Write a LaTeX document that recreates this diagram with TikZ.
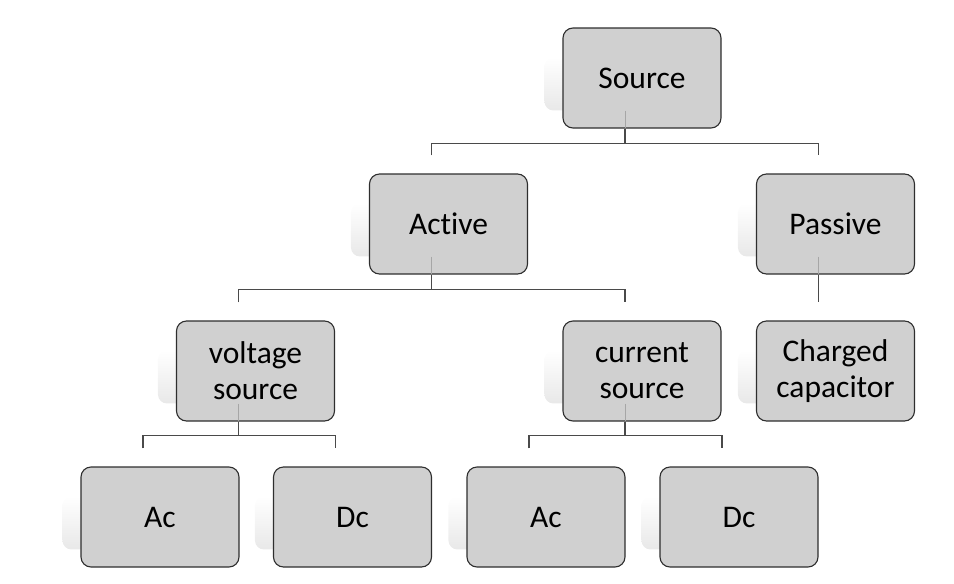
\documentclass[tikz,border=0pt]{standalone}
\usepackage{fontspec}
\setmainfont[Ligatures={NoCommon}]{Carlito}
\usetikzlibrary{calc,backgrounds}
\definecolor{boxfill}{HTML}{D0D0D0}
\definecolor{boxline}{HTML}{2E2E2E}
\definecolor{connline}{HTML}{4A4A4A}
\tikzset{
  box/.style={draw=boxline, line width=1.1pt, fill=boxfill, rounded corners=10pt,
    minimum width=158pt, minimum height=100pt, align=center, inner sep=0pt,
    font=\fontsize{31.5}{36}\selectfont, text=black},
  conn/.style={draw=connline, line width=1.3pt},
  inner/.style={draw=black!35, line width=0.8pt},
  shadowbox/.style={top color=white, bottom color=black!9, rounded corners=9pt}
}
\begin{document}
\begin{tikzpicture}[x=1pt,y=-1pt]
\useasboundingbox (0,0) rectangle (954,584);
\node[box] (src) at (642,78) {Source};
\node[box] (act) at (448.5,224) {Active};
\node[box] (pas) at (835.5,224) {Passive};
\node[box] (vs) at (255.5,371) {voltage\\source};
\node[box] (cs) at (642,371) {current\\source};
\node[box] (cc) at (835.5,371) {Charged\\capacitor};
\node[box] (ac1) at (160,517) {Ac};
\node[box] (dc1) at (352.5,517) {Dc};
\node[box] (ac2) at (546,517) {Ac};
\node[box] (dc2) at (739,517) {Dc};
\begin{scope}[on background layer]
\foreach \n in {src,act,pas,vs,cs,cc,ac1,dc1,ac2,dc2}{
  \shade[shadowbox] ($(\n.north west)+(-18,30)$) rectangle ($(\n.north west)+(120,83)$);
}
\end{scope}
% faint inner lines
\foreach \n in {src,act,vs,cs,pas}{
  \draw[inner] ($(\n.south)+(-17,-18)$) -- ($(\n.south)+(-17,-0.6)$);
}
% Source level
\coordinate (jsrc) at ($(src.south)+(-17,15)$);
\draw[conn] ($(src.south)+(-17,0)$) -- (jsrc);
\draw[conn] ($(act.north)+(-17,-18)$) |- (jsrc) -| ($(pas.north)+(-17,-18)$);
% Active level
\coordinate (jact) at ($(act.south)+(-17,15)$);
\draw[conn] ($(act.south)+(-17,0)$) -- (jact);
\draw[conn] ($(vs.north)+(-17,-18)$) |- (jact) -| ($(cs.north)+(-17,-18)$);
% Passive
\draw[conn] ($(pas.south)+(-17,0)$) -- ($(cc.north)+(-17,-18)$);
% voltage source
\coordinate (jvs) at ($(vs.south)+(-17,14)$);
\draw[conn] ($(vs.south)+(-17,0)$) -- (jvs);
\draw[conn] ($(ac1.north)+(-17,-18)$) |- (jvs) -| ($(dc1.north)+(-17,-18)$);
% current source
\coordinate (jcs) at ($(cs.south)+(-17,14)$);
\draw[conn] ($(cs.south)+(-17,0)$) -- (jcs);
\draw[conn] ($(ac2.north)+(-17,-18)$) |- (jcs) -| ($(dc2.north)+(-17,-18)$);
\end{tikzpicture}
\end{document}
